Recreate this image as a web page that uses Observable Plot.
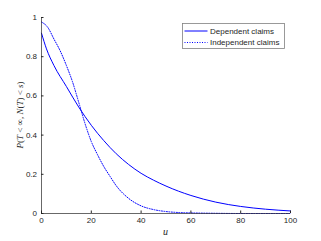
<!DOCTYPE html>
<html><head><meta charset="utf-8">
<script src="https://cdn.jsdelivr.net/npm/d3@7"></script>
<script src="https://cdn.jsdelivr.net/npm/@observablehq/plot@0.6"></script>
<style>html,body{margin:0;padding:0;background:#fff}</style>
</head><body><div id="chart"></div>
<script>
// Data
const seriesNames = ["Dependent claims", "Independent claims"];
const uDep = [0, 2, 5, 10, 15, 20, 25, 30, 35, 40, 45, 50, 55, 60, 70, 80, 90, 100];
const pDep = [0.92, 0.84, 0.755, 0.648, 0.542, 0.45, 0.372, 0.305, 0.25, 0.205, 0.17, 0.14, 0.114, 0.092, 0.058, 0.036, 0.022, 0.013];
const uInd = [0, 2.5, 5, 7.5, 10, 12.5, 15, 17.5, 20, 22.5, 25, 27.5, 30, 35, 40, 45, 50, 55, 60, 70, 80, 90, 100];
const pInd = [0.977, 0.95, 0.89, 0.83, 0.755, 0.67, 0.565, 0.458, 0.367, 0.3, 0.24, 0.19, 0.142, 0.077, 0.039, 0.02, 0.01, 0.005, 0.003, 0.001, 0, 0, 0];
const xTicks = [0, 20, 40, 60, 80, 100];
const yTicks = [0, 0.2, 0.4, 0.6, 0.8, 1];
const xDomain = [0, 100];
const yDomain = [0, 1];

const dep = uDep.map((u, i) => ({u, p: pDep[i]}));
const ind = uInd.map((u, i) => ({u, p: pInd[i]}));

const axisColor = "#262626";
const chart = Plot.plot({
  width: 321, height: 241,
  marginLeft: 41, marginRight: 31, marginTop: 17, marginBottom: 28,
  style: {fontFamily: "'Liberation Sans', Arial, sans-serif", fontSize: "8px", color: axisColor, background: "#fff"},
  x: {domain: xDomain},
  y: {domain: yDomain},
  marks: [
    Plot.line(dep, {x: "u", y: "p", stroke: "#0000ff", strokeWidth: 1, curve: "monotone-x"}),
    Plot.line(ind, {x: "u", y: "p", stroke: "#0000ff", strokeWidth: 1, strokeDasharray: "1,1.5", curve: "monotone-x"}),
    Plot.ruleX([xDomain[0]], {stroke: axisColor, strokeWidth: 0.7}),
    Plot.ruleY([yDomain[0]], {stroke: axisColor, strokeWidth: 0.7}),
    Plot.axisX({ticks: xTicks, tickSize: -2.5, tickPadding: 6, label: null, tickFormat: d => String(d), stroke: axisColor}),
    Plot.axisY({ticks: yTicks, tickSize: -2.5, tickPadding: 7, label: null, tickFormat: d => String(d), stroke: axisColor})
  ]
});
document.getElementById("chart").appendChild(chart);

const svg = d3.select(chart);
// Y axis label (math style)
const yl = svg.append("text")
  .attr("transform", "translate(20,115) rotate(-90)")
  .attr("text-anchor", "middle")
  .attr("dy", "0.32em")
  .attr("font-family", "'Liberation Serif', 'DejaVu Serif', serif")
  .attr("font-size", 9)
  .attr("fill", axisColor);
const parts = [["P", true], ["(", false], ["T", true], [" < ∞, ", false], ["N", true], ["(", false], ["T", true], [") < ", false], ["s", true], [")", false]];
parts.forEach(([t, it]) => yl.append("tspan").attr("font-style", it ? "italic" : "normal").text(t));
// X axis label
svg.append("text")
  .attr("x", 165.5).attr("y", 235)
  .attr("text-anchor", "middle")
  .attr("font-family", "'Liberation Serif', 'DejaVu Serif', serif")
  .attr("font-style", "italic")
  .attr("font-size", 10)
  .attr("fill", axisColor)
  .text("u");

// Legend
const lg = svg.append("g");
lg.append("rect").attr("x", 182.5).attr("y", 23.5).attr("width", 102).attr("height", 25)
  .attr("fill", "#fff").attr("stroke", "#808080").attr("stroke-width", 0.8);
const dashes = [null, "1,1.5"];
seriesNames.forEach((name, i) => {
  const y = 31 + i * 11.5;
  lg.append("line").attr("x1", 184.5).attr("x2", 207.5).attr("y1", y).attr("y2", y)
    .attr("stroke", "#0000ff").attr("stroke-width", 1).attr("stroke-dasharray", dashes[i]);
  lg.append("text").attr("x", 210).attr("y", y).attr("dy", "0.35em")
    .attr("text-anchor", "start")
    .attr("font-size", 8).attr("fill", axisColor).text(name);
});
</script>
</body></html>
